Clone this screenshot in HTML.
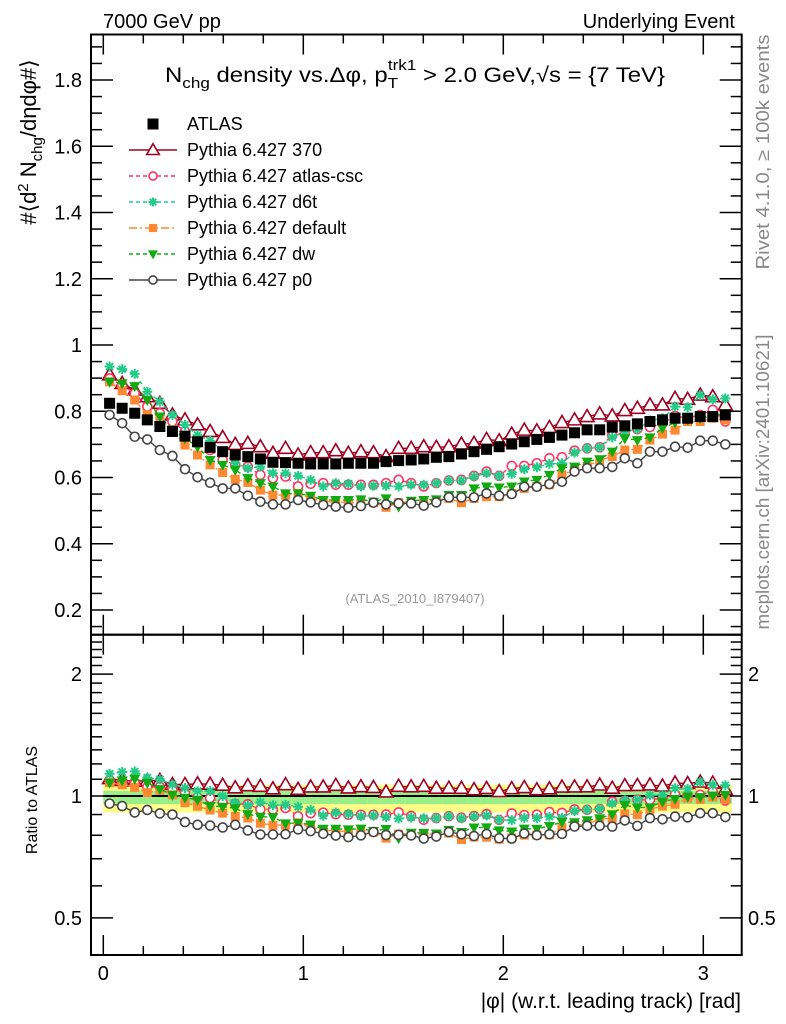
<!DOCTYPE html>
<html><head><meta charset="utf-8"><style>
html,body{margin:0;padding:0;background:#fff;}
svg{display:block;font-family:"Liberation Sans",sans-serif;}
</style></head><body>
<svg id="chart" width="786" height="1024" viewBox="0 0 786 1024" xmlns="http://www.w3.org/2000/svg">
<g id="bands"></g>
<g id="axes"></g>
<g id="series"></g>
<text x="103" y="28" font-size="20">7000 GeV pp</text>
<text x="735" y="28" font-size="20" text-anchor="end">Underlying Event</text>
<text x="415" y="82" font-size="21" text-anchor="middle" textLength="500" lengthAdjust="spacingAndGlyphs">N<tspan font-size="15" dy="6">chg</tspan><tspan dy="-6"> density vs.Δφ, p</tspan><tspan font-size="15" dy="6">T</tspan><tspan font-size="15" dx="-9" dy="-18">trk1</tspan><tspan dy="12"> &gt; 2.0 GeV,√s = {7 TeV}</tspan></text>
<text transform="translate(36,142) rotate(-90)" font-size="22" text-anchor="middle">#⟨d<tspan font-size="15" dy="-8">2</tspan><tspan dy="8"> N</tspan><tspan font-size="15" dy="6">chg</tspan><tspan dy="-6">/dηdφ#⟩</tspan></text>
<text transform="translate(37,800) rotate(-90)" font-size="16" text-anchor="middle">Ratio to ATLAS</text>
<text x="741" y="1008" font-size="21" text-anchor="end">|φ| (w.r.t. leading track) [rad]</text>
<text x="415" y="603" font-size="13" fill="#999" text-anchor="middle">(ATLAS_2010_I879407)</text>
<text transform="translate(769,152) rotate(-90)" font-size="18" fill="#888" text-anchor="middle" textLength="235" lengthAdjust="spacingAndGlyphs">Rivet 4.1.0, ≥ 100k events</text>
<text transform="translate(769,482) rotate(-90)" font-size="18" fill="#888" text-anchor="middle" textLength="295" lengthAdjust="spacingAndGlyphs">mcplots.cern.ch [arXiv:2401.10621]</text>
<g id="legend"></g>
</svg>
<script>
const NS="http://www.w3.org/2000/svg";
const nbins=50;
const atlas=[0.824,0.809,0.794,0.774,0.754,0.739,0.725,0.708,0.691,0.678,0.668,0.663,0.656,0.646,0.645,0.643,0.641,0.641,0.641,0.643,0.643,0.643,0.648,0.651,0.653,0.656,0.661,0.663,0.671,0.678,0.685,0.693,0.701,0.708,0.715,0.721,0.728,0.735,0.744,0.744,0.752,0.756,0.762,0.769,0.774,0.779,0.779,0.784,0.784,0.789];
const py370=[0.910,0.884,0.864,0.844,0.824,0.789,0.774,0.759,0.739,0.721,0.700,0.703,0.693,0.673,0.688,0.668,0.675,0.675,0.681,0.673,0.678,0.675,0.663,0.688,0.688,0.693,0.691,0.693,0.701,0.703,0.715,0.711,0.731,0.743,0.741,0.751,0.766,0.774,0.784,0.792,0.786,0.802,0.809,0.819,0.819,0.839,0.836,0.849,0.844,0.819];
const pycsc=[0.899,0.879,0.854,0.814,0.794,0.769,0.739,0.703,0.683,0.653,0.638,0.633,0.608,0.598,0.603,0.573,0.581,0.583,0.578,0.578,0.578,0.578,0.583,0.593,0.583,0.573,0.583,0.591,0.593,0.605,0.618,0.605,0.635,0.635,0.643,0.658,0.661,0.681,0.688,0.691,0.728,0.735,0.746,0.752,0.764,0.786,0.779,0.789,0.804,0.769];
const pyd6t=[0.935,0.927,0.913,0.859,0.829,0.789,0.759,0.728,0.711,0.678,0.643,0.628,0.633,0.613,0.613,0.605,0.593,0.573,0.583,0.581,0.573,0.575,0.575,0.573,0.578,0.578,0.583,0.591,0.591,0.603,0.613,0.605,0.611,0.625,0.631,0.641,0.643,0.675,0.688,0.691,0.721,0.738,0.746,0.772,0.779,0.814,0.812,0.849,0.836,0.839];
const pydef=[0.889,0.862,0.834,0.789,0.779,0.744,0.698,0.668,0.638,0.615,0.595,0.585,0.562,0.547,0.547,0.552,0.537,0.527,0.527,0.524,0.524,0.524,0.510,0.524,0.527,0.527,0.532,0.537,0.524,0.537,0.542,0.542,0.552,0.567,0.573,0.578,0.608,0.623,0.633,0.653,0.663,0.683,0.685,0.713,0.731,0.743,0.769,0.769,0.779,0.774];
const pydw=[0.889,0.884,0.876,0.834,0.784,0.744,0.718,0.693,0.653,0.638,0.623,0.598,0.583,0.573,0.552,0.552,0.545,0.532,0.532,0.532,0.534,0.527,0.537,0.512,0.530,0.532,0.534,0.547,0.547,0.567,0.573,0.570,0.573,0.588,0.593,0.608,0.628,0.633,0.648,0.655,0.678,0.718,0.713,0.721,0.749,0.766,0.776,0.779,0.786,0.794];
const pyp0=[0.789,0.764,0.723,0.715,0.683,0.665,0.625,0.601,0.584,0.567,0.567,0.545,0.527,0.519,0.519,0.532,0.525,0.517,0.512,0.509,0.514,0.524,0.519,0.522,0.522,0.515,0.525,0.54,0.54,0.54,0.552,0.545,0.55,0.572,0.572,0.58,0.587,0.618,0.628,0.628,0.632,0.658,0.643,0.678,0.678,0.693,0.69,0.711,0.711,0.70];
const bandInnerHi=0.03, bandInnerLo=0.045, bandOuterHi=0.065, bandOuterLo=0.09;
const legendLabels=["ATLAS","Pythia 6.427 370","Pythia 6.427 atlas-csc","Pythia 6.427 d6t","Pythia 6.427 default","Pythia 6.427 dw","Pythia 6.427 p0"];
const xTicks=[0,1,2,3];
const yTicks=[0.2,0.4,0.6,0.8,1,1.2,1.4,1.6,1.8];
const rTicks=[0.5,1,2];

const L=91,R=741.7,T=34.5,M=634.7,B=955;
const xs=v=>103.3+v*200;
const ys=v=>80+(1.8-v)*331.25;
const rs=v=>796-Math.log10(v)*405;
const xc=i=>xs((i+0.5)*Math.PI/nbins);

function mk(tag,attrs,parent){const e=document.createElementNS(NS,tag);for(const k in attrs)e.setAttribute(k,attrs[k]);parent.appendChild(e);return e;}
const axes=document.getElementById('axes'),ser=document.getElementById('series'),bands=document.getElementById('bands'),leg=document.getElementById('legend');

for(let i=0;i<nbins;i++){
  const x0=xs(i*Math.PI/nbins),x1=xs((i+1)*Math.PI/nbins);
  const a=mk('rect',{x:x0,y:rs(1+bandOuterHi),width:x1-x0+0.3,height:rs(1-bandOuterLo)-rs(1+bandOuterHi),fill:'#ffff88'},bands);
  
  
  const b=mk('rect',{x:x0,y:rs(1+bandInnerHi),width:x1-x0+0.3,height:rs(1-bandInnerLo)-rs(1+bandInnerHi),fill:'#99ee88'},bands);
  
  
}
mk('line',{x1:xs(0),x2:xs(Math.PI),y1:rs(1),y2:rs(1),stroke:'#000','stroke-width':2},bands);

const f1=mk('rect',{x:L,y:T,width:R-L,height:M-T,fill:'none',stroke:'#000','stroke-width':2},axes);


const f2=mk('rect',{x:L,y:M,width:R-L,height:B-M,fill:'none',stroke:'#000','stroke-width':2},axes);



function tick(x1,y1,x2,y2){mk('line',{x1,y1,x2,y2,stroke:'#000','stroke-width':1.5},axes);}
for(let v=0;v<=3.15;v+=0.2){const x=xs(v);const maj=Math.abs(v-Math.round(v))<1e-6;const l=maj?20:9;
  [T,M].forEach(y=>tick(x,y,x,y+l));[M,B].forEach(y=>tick(x,y,x,y-l));}
xTicks.forEach(v=>{const t=mk('text',{x:xs(v),y:980,'font-size':20,'text-anchor':'middle'},axes);t.textContent=v;
  
  });
for(let k=3;k<=38;k++){const v=k*0.05;const y=ys(v);if(y<T||y>M)continue;const maj=k%4===0;const l=maj?22:11;
  tick(L,y,L+l,y);tick(R,y,R-l,y);}
yTicks.forEach(v=>{const t=mk('text',{x:82,y:ys(v)+7,'font-size':20,'text-anchor':'end'},axes);t.textContent=(v===1?'1':v.toFixed(1));
  
  });
for(let k=4;k<=25;k++){const v=k/10;const y=rs(v);if(y<M||y>B)continue;const maj=(k===5||k===10||k===20);const l=maj?22:11;
  tick(L,y,L+l,y);tick(R,y,R-l,y);}
rTicks.forEach(v=>{
  const t=mk('text',{x:82,y:rs(v)+7,'font-size':20,'text-anchor':'end'},axes);t.textContent=v;
  
  
  const t2=mk('text',{x:748,y:rs(v)+7,'font-size':20},axes);t2.textContent=v;
  
  });

function marker(type,x,y,col,g,s){
  s=s||1;
  if(type==='sq') return mk('rect',{x:x-5.5*s,y:y-5.5*s,width:11*s,height:11*s,fill:col},g);
  if(type==='tri') return mk('polygon',{points:`${x},${y-7*s} ${x-7*s},${y+5*s} ${x+7*s},${y+5*s}`,fill:'#fff',stroke:col,'stroke-width':1.6},g);
  if(type==='circ') return mk('circle',{cx:x,cy:y,r:4.5*s,fill:'#fff',stroke:col,'stroke-width':1.6},g);
  if(type==='fsq') return mk('rect',{x:x-4.5*s,y:y-4.5*s,width:9*s,height:9*s,fill:col},g);
  if(type==='dtri') return mk('polygon',{points:`${x},${y+6*s} ${x-5.5*s},${y-4*s} ${x+5.5*s},${y-4*s}`,fill:col},g);
  if(type==='star'){const r=5*s;let d='';for(let a=0;a<4;a++){const an=a*Math.PI/4;d+=`M${x-r*Math.cos(an)},${y-r*Math.sin(an)}L${x+r*Math.cos(an)},${y+r*Math.sin(an)}`;}
    return mk('path',{d,stroke:col,'stroke-width':2,fill:'none'},g);}
}
const series=[
 {n:'pythia-370',d:py370,c:'#a00020',m:'tri',dash:''},
 {n:'pythia-atlas-csc',d:pycsc,c:'#ff3366',m:'circ',dash:'4,3'},
 {n:'pythia-d6t',d:pyd6t,c:'#22cc88',m:'star',dash:'4,3'},
 {n:'pythia-default',d:pydef,c:'#ff8833',m:'fsq',dash:'8,3,2,3'},
 {n:'pythia-dw',d:pydw,c:'#11aa11',m:'dtri',dash:'4,3'},
 {n:'pythia-p0',d:pyp0,c:'#444444',m:'circ',dash:''}
];
series.forEach(s=>{
  const g=mk('g',{},ser);
  
  
  const pts=s.d.map((v,i)=>xc(i)+','+ys(v)).join(' ');
  mk('polyline',{points:pts,fill:'none',stroke:s.c,'stroke-width':1.4,'stroke-dasharray':s.dash},g);
  const rp=s.d.map((v,i)=>xc(i)+','+rs(v/atlas[i])).join(' ');
  mk('polyline',{points:rp,fill:'none',stroke:s.c,'stroke-width':1.4,'stroke-dasharray':s.dash},g);
  s.d.forEach((v,i)=>{
    const p=marker(s.m,xc(i),ys(v),s.c,g);
    
    
    const q=marker(s.m,xc(i),rs(v/atlas[i]),s.c,g);
    
    
  });
});
const ga=mk('g',{},ser);


atlas.forEach((v,i)=>{const p=marker('sq',xc(i),ys(v),'#000',ga);
  
  });

const legStyles=[{m:'sq',c:'#000',line:false},{m:'tri',c:'#a00020',dash:''},{m:'circ',c:'#ff3366',dash:'4,3'},{m:'star',c:'#22cc88',dash:'4,3'},{m:'fsq',c:'#ff8833',dash:'8,3,2,3'},{m:'dtri',c:'#11aa11',dash:'4,3'},{m:'circ',c:'#444444',dash:''}];
legendLabels.forEach((lab,k)=>{
  const y=124+k*26;const st=legStyles[k];
  const g=mk('g',{},leg);
  
  
  if(st.line!==false) mk('line',{x1:129,x2:177,y1:y,y2:y,stroke:st.c,'stroke-width':1.4,'stroke-dasharray':st.dash},g);
  marker(st.m,153,y,st.c,g,st.m==='sq'?1:0.9);
  const t=mk('text',{x:187,y:y+6,'font-size':18},g);t.textContent=lab;
});
</script>
</body></html>
